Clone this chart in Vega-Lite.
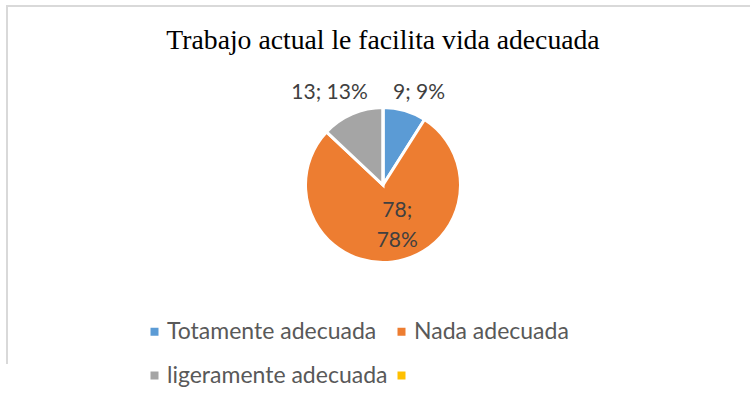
{
  "$schema": "https://vega.github.io/schema/vega-lite/v6.json",
  "width": 752,
  "height": 358,
  "autosize": {"type": "none"},
  "padding": {"left": 7, "top": 6, "right": -9, "bottom": 43},
  "background": "white",
  "view": {"stroke": "#D9D9D9", "strokeWidth": 2, "strokeDash": [752, 1110, 358]},
  "title": {
    "text": "Trabajo actual le facilita vida adecuada",
    "font": "Liberation Serif",
    "fontSize": 27.7,
    "fontWeight": "normal",
    "color": "#000000",
    "anchor": "middle",
    "frame": "group",
    "baseline": "alphabetic",
    "offset": -71
  },
  "data": {
    "values": [
      {"categoria": "Totamente adecuada", "valor": 9, "orden": 1, "etiqueta": "9; 9%"},
      {"categoria": "Nada adecuada", "valor": 78, "orden": 2, "etiqueta": "78; 78%"},
      {"categoria": "ligeramente adecuada", "valor": 13, "orden": 3, "etiqueta": "13; 13%"},
      {"categoria": "", "valor": 0, "orden": 4, "etiqueta": ""}
    ]
  },
  "encoding": {
    "theta": {"field": "valor", "type": "quantitative", "stack": true},
    "order": {"field": "orden", "type": "quantitative"}
  },
  "layer": [
    {
      "mark": {"type": "arc", "radius": 77.5, "stroke": "white", "strokeWidth": 3},
      "encoding": {
        "color": {
          "field": "categoria",
          "type": "nominal",
          "sort": null,
          "scale": {
            "domain": ["Totamente adecuada", "Nada adecuada", "ligeramente adecuada", ""],
            "range": ["#5B9BD5", "#ED7D31", "#A5A5A5", "#FFC000"]
          },
          "legend": {
            "title": null,
            "orient": "none",
            "legendX": 136,
            "legendY": 314,
            "direction": "horizontal",
            "columns": 2,
            "symbolType": "square",
            "symbolSize": 64,
            "symbolStrokeWidth": 0,
            "labelFont": "Lato",
            "labelFontSize": 23,
            "labelColor": "#595959",
            "labelOffset": 1,
            "labelLimit": 400,
            "columnPadding": 2,
            "rowPadding": 20,
            "padding": 0
          }
        }
      }
    },
    {
      "mark": {"type": "text", "radius": 98.4, "dx": 8.6, "dy": 2.5, "font": "Lato", "fontSize": 21, "fill": "#404040", "baseline": "middle", "align": "center"},
      "encoding": {
        "text": {"condition": {"test": "datum.categoria === 'Totamente adecuada'", "field": "etiqueta"}, "value": ""}
      }
    },
    {
      "mark": {"type": "text", "radius": 105.7, "dx": -11.5, "dy": 5, "font": "Lato", "fontSize": 21, "fill": "#404040", "baseline": "middle", "align": "center"},
      "encoding": {
        "text": {"condition": {"test": "datum.categoria === 'ligeramente adecuada'", "field": "etiqueta"}, "value": ""}
      }
    },
    {
      "mark": {"type": "text", "radius": 42, "dx": 9, "dy": -16, "font": "Lato", "fontSize": 21, "fill": "#404040", "baseline": "middle", "align": "center", "lineBreak": " ", "lineHeight": 30},
      "encoding": {
        "text": {"condition": {"test": "datum.categoria === 'Nada adecuada'", "field": "etiqueta"}, "value": ""}
      }
    }
  ]
}
